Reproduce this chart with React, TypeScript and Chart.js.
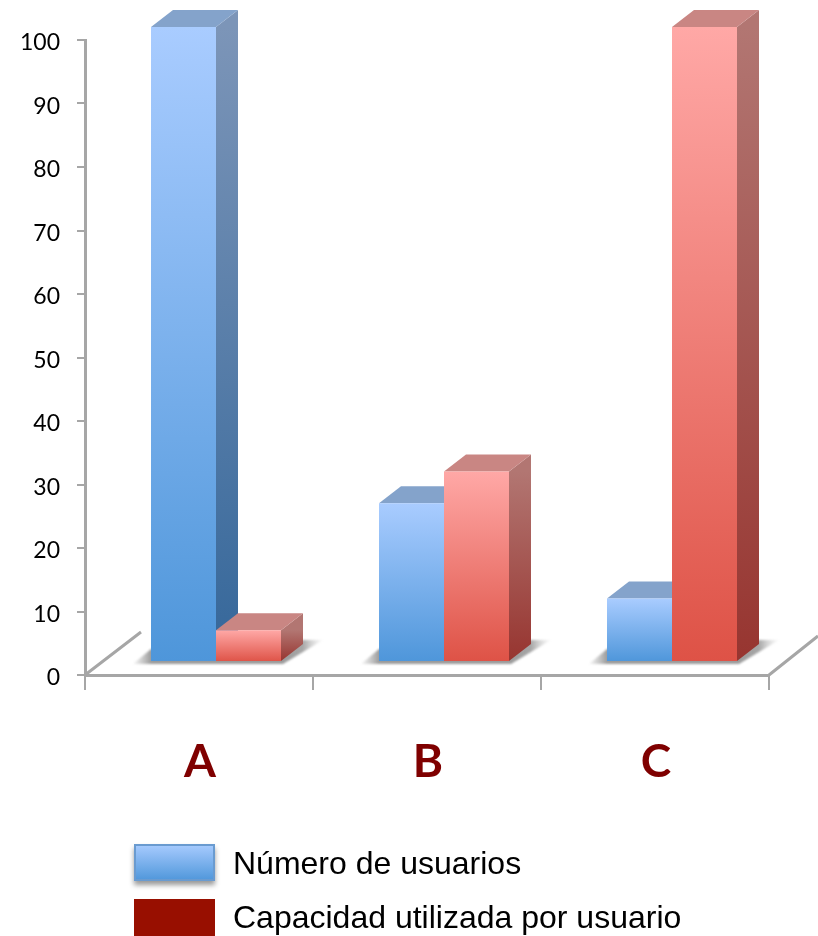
import React, { useEffect, useRef } from "react";
import { Chart, registerables } from "chart.js";

Chart.register(...registerables);

const categories = ["A", "B", "C"];
const usersLabel = "Número de usuarios";
const capacityLabel = "Capacidad utilizada por usuario";
const usersValues = [100, 25, 10];
const capacityValues = [5, 30, 100];

const SHIFT_X = 17;
const SHIFT_Y = -13;
const DEPTH_X = 22;
const DEPTH_Y = -17;
const AXIS = "#a6a6a6";

const palettes = [
  { top: "#a9ccff", bottom: "#4e96da", cap: "#84a3cb", sideTop: "#7c95b8", sideBottom: "#35679a" },
  { top: "#ffa8a6", bottom: "#de5246", cap: "#c98683", sideTop: "#b27672", sideBottom: "#973530" },
];

function barGradient(c: any, i: number) {
  const { chart, raw } = c;
  if (!chart.chartArea || raw === undefined) return palettes[i].top;
  const y = chart.scales.y;
  const g = chart.ctx.createLinearGradient(0, y.getPixelForValue(raw), 0, y.getPixelForValue(0));
  g.addColorStop(0, palettes[i].top);
  g.addColorStop(1, palettes[i].bottom);
  return g;
}

function poly(ctx: CanvasRenderingContext2D, pts: number[][]) {
  ctx.beginPath();
  pts.forEach(([x, y], i) => (i ? ctx.lineTo(x, y) : ctx.moveTo(x, y)));
  ctx.closePath();
  ctx.fill();
}

const scene = {
  id: "scene",
  beforeDatasetsDraw(chart: any) {
    const ctx: CanvasRenderingContext2D = chart.ctx;
    const { left, right, bottom } = chart.chartArea;

    // floor edges
    ctx.save();
    ctx.strokeStyle = AXIS;
    ctx.lineWidth = 3;
    ctx.beginPath();
    ctx.moveTo(left, bottom);
    ctx.lineTo(left + 56, bottom - 43);
    ctx.moveTo(right, bottom);
    ctx.lineTo(right + 49, bottom - 39);
    ctx.stroke();
    ctx.restore();

    ctx.save();
    ctx.translate(SHIFT_X, SHIFT_Y);

    // cast shadows on the floor
    const m0 = chart.getDatasetMeta(0).data;
    const m1 = chart.getDatasetMeta(1).data;
    m0.forEach((b0: any, i: number) => {
      const b1 = m1[i];
      const l = b0.x - b0.width / 2;
      const r = b1.x + b1.width / 2;
      const base = b0.base;
      const tip = r + DEPTH_X + 20;
      const start = l - 18;
      const span = tip - start;
      const g = ctx.createLinearGradient(start, 0, tip, 0);
      g.addColorStop(0, "rgba(170,170,170,0.1)");
      g.addColorStop(18 / span, "rgba(150,150,150,0.95)");
      g.addColorStop((18 + r - l) / span, "rgba(150,150,150,0.95)");
      g.addColorStop((18 + r - l + DEPTH_X) / span, "rgba(130,130,130,0.7)");
      g.addColorStop(1, "rgba(190,190,190,0.05)");
      ctx.fillStyle = g;
      ctx.save();
      ctx.filter = "blur(1px)";
      poly(ctx, [
        [start, base + 3],
        [r + 2, base + 3],
        [tip, base + DEPTH_Y - 4],
        [r + DEPTH_X, base + DEPTH_Y - 4],
        [r, base - 10],
        [l, base - 12],
      ]);
      ctx.restore();
    });

    // side and top faces: first series, then second, fronts come after
    [m0, m1].forEach((meta: any[], d: number) => {
      const p = palettes[d];
      meta.forEach((b: any) => {
        const l = b.x - b.width / 2;
        const r = b.x + b.width / 2;
        const s = ctx.createLinearGradient(0, b.y, 0, b.base);
        s.addColorStop(0, p.sideTop);
        s.addColorStop(1, p.sideBottom);
        ctx.fillStyle = s;
        poly(ctx, [
          [r, b.y],
          [r + DEPTH_X, b.y + DEPTH_Y],
          [r + DEPTH_X, b.base + DEPTH_Y],
          [r, b.base],
        ]);
        ctx.fillStyle = p.cap;
        poly(ctx, [
          [l, b.y],
          [l + DEPTH_X, b.y + DEPTH_Y],
          [r + DEPTH_X, b.y + DEPTH_Y],
          [r, b.y],
        ]);
      });
    });
    // translation stays active for the fronts drawn by Chart.js
  },
  afterDatasetsDraw(chart: any) {
    chart.ctx.restore();
  },
  afterDraw(chart: any) {
    const ctx: CanvasRenderingContext2D = chart.ctx;
    const labels = chart.data.datasets.map((d: any) => d.label);
    const x = 134;
    const w = 81;
    const h = 37;

    ctx.save();
    ctx.shadowColor = "rgba(0,0,0,0.4)";
    ctx.shadowBlur = 5;
    ctx.shadowOffsetY = 4;
    const g = ctx.createLinearGradient(0, 844, 0, 881);
    g.addColorStop(0, palettes[0].top);
    g.addColorStop(1, palettes[0].bottom);
    ctx.fillStyle = g;
    ctx.fillRect(x, 844, w, h);
    ctx.restore();
    ctx.strokeStyle = "#6a9bd0";
    ctx.lineWidth = 2;
    ctx.strokeRect(x + 1, 845, w - 2, h - 2);

    ctx.fillStyle = "#980f00";
    ctx.fillRect(x, 899, w, h);

    ctx.fillStyle = "#000";
    ctx.font = '32px "Liberation Sans"';
    ctx.textBaseline = "middle";
    ctx.textAlign = "left";
    ctx.fillText(labels[0], 233, 865);
    ctx.fillText(labels[1], 233, 919);
  },
};

export default function App() {
  const ref = useRef<HTMLCanvasElement>(null);
  useEffect(() => {
    const chart = new Chart(ref.current!, {
      type: "bar",
      data: {
        labels: categories,
        datasets: [
          {
            label: usersLabel,
            data: usersValues,
            backgroundColor: (c: any) => barGradient(c, 0),
            clip: false,
          },
          {
            label: capacityLabel,
            data: capacityValues,
            backgroundColor: (c: any) => barGradient(c, 1),
            clip: false,
          },
        ] as any,
      },
      options: {
        responsive: false,
        animation: false,
        devicePixelRatio: 1,
        layout: { padding: { top: 40, right: 49, left: 0, bottom: 0 } },
        datasets: { bar: { categoryPercentage: 0.5702, barPercentage: 1 } },
        plugins: { legend: { display: false }, tooltip: { enabled: false } },
        scales: {
          x: {
            afterFit: (s: any) => {
              s.height = 261;
            },
            border: { color: AXIS, width: 3 },
            grid: { offset: true, drawOnChartArea: false, color: AXIS, lineWidth: 2, tickLength: 15 },
            ticks: {
              color: "#7f0000",
              padding: 45,
              labelOffset: 1,
              maxRotation: 0,
              font: { family: "Lato", weight: "bold", size: 46 },
            },
          },
          y: {
            min: 0,
            max: 100,
            afterFit: (s: any) => {
              s.width = 85;
            },
            border: { color: AXIS, width: 3 },
            grid: { drawOnChartArea: false, color: AXIS, lineWidth: 2, tickLength: 8 },
            ticks: {
              stepSize: 10,
              color: "#000",
              padding: 17,
              labelOffset: 3,
              font: { family: "Lato", size: 23 },
            },
          },
        },
      } as any,
      plugins: [scene],
    });
    return () => chart.destroy();
  }, []);
  return (
    <div style={{ position: "absolute", left: 0, top: 0, width: 818, height: 936, overflow: "hidden" }}>
      <canvas ref={ref} width={818} height={936} style={{ display: "block" }} />
    </div>
  );
}
